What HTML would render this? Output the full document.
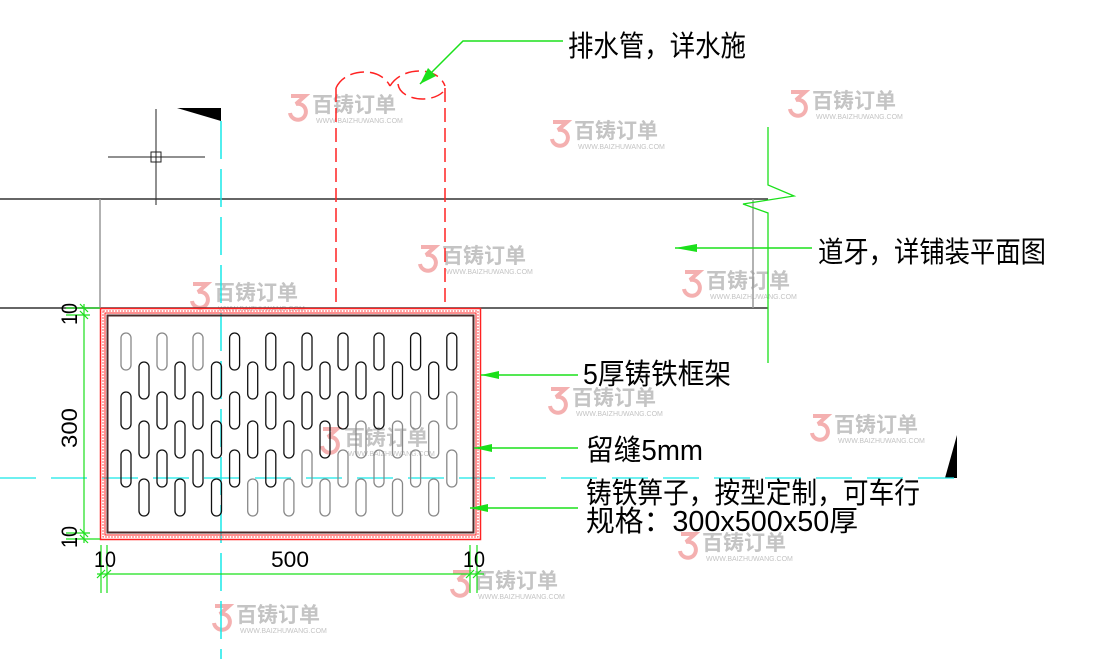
<!DOCTYPE html>
<html><head><meta charset="utf-8"><style>
html,body{margin:0;padding:0;background:#fff;}
svg{display:block;}
.t{font-family:"Liberation Sans","Noto Sans CJK SC",sans-serif;fill:#000;}
.wm{font-family:"Liberation Sans","Noto Sans CJK SC",sans-serif;font-weight:bold;fill:#c4c4c4;font-size:21px;}
.wu{font-family:"Liberation Sans",sans-serif;fill:#c4c4c4;font-size:7px;}
</style></head><body>
<svg width="1094" height="659" viewBox="0 0 1094 659" xmlns="http://www.w3.org/2000/svg">
<defs>
<g id="wm">
<path d="M3,-8 L17,-8 L8,0 A8,8 0 1 1 2,9" fill="none" stroke="#f4b0b0" stroke-width="4"/>
<text class="wm" x="24" y="8">百铸订单</text>
<text class="wu" x="28" y="19">WWW.BAIZHUWANG.COM</text>
</g>
</defs>
<use href="#wm" x="788" y="100"/>
<use href="#wm" x="550" y="130"/>
<use href="#wm" x="418" y="255"/>
<use href="#wm" x="190" y="292"/>
<use href="#wm" x="682" y="280"/>
<use href="#wm" x="548" y="397"/>
<use href="#wm" x="810" y="424"/>
<use href="#wm" x="320" y="437"/>
<use href="#wm" x="678" y="542"/>
<use href="#wm" x="450" y="580"/>
<use href="#wm" x="212" y="614"/>
<use href="#wm" x="288" y="104"/>

<g stroke="#222" stroke-width="1" fill="none">
<line x1="108" y1="157" x2="205" y2="157"/>
<line x1="156" y1="109" x2="156" y2="205"/>
<rect x="151" y="152" width="10" height="10"/>
</g>
<polygon points="177,108 221,108 221,121" fill="#000"/>
<polygon points="957,435 957,478 945,478" fill="#000"/>

<line x1="0" y1="199" x2="768" y2="199" stroke="#333" stroke-width="1.5"/>
<line x1="0" y1="308" x2="768" y2="308" stroke="#333" stroke-width="1.5"/>
<line x1="100" y1="199" x2="100" y2="308" stroke="#999" stroke-width="1.5"/>
<line x1="753" y1="199" x2="753" y2="308" stroke="#999" stroke-width="1.5"/>
<polyline points="768,127 768,185 794,196 743,204 768,213 768,363" fill="none" stroke="#1be01b" stroke-width="1.3"/>

<g stroke="#f22" stroke-width="1.5" fill="none" stroke-dasharray="14,6">
<line x1="336" y1="88" x2="336" y2="308"/>
<line x1="445" y1="88" x2="445" y2="308"/>
<path d="M336,88 C345,68 380,66 390,86"/>
<path d="M390,86 C402,66 438,66 445,86"/>
<path d="M398,84 C400,100 430,104 443,92"/>
</g>

<line x1="221" y1="121" x2="221" y2="659" stroke="#18e8e8" stroke-width="1.5" stroke-dasharray="38,10"/>
<line x1="0" y1="478" x2="957" y2="478" stroke="#18e8e8" stroke-width="1.3" stroke-dasharray="36,15"/>

<rect x="100.5" y="308.5" width="380" height="231" fill="none" stroke="#f22" stroke-width="1.5"/>
<rect x="103" y="311" width="375" height="226" fill="none" stroke="#f55" stroke-width="1" stroke-dasharray="2,1"/>
<rect x="105" y="313" width="371" height="222" fill="none" stroke="#f22" stroke-width="1"/>
<rect x="107.5" y="315.5" width="366" height="217" fill="none" stroke="#4a2a2a" stroke-width="2"/>

<g fill="none" stroke-width="1.3">
<g stroke="#888">
<rect x="121" y="333" width="10" height="37" rx="5"/>
<rect x="157" y="333" width="10" height="37" rx="5"/>
<rect x="193" y="333" width="10" height="37" rx="5"/>
<rect x="410.6" y="392" width="10" height="37" rx="5"/>
<rect x="446.8" y="392" width="10" height="37" rx="5"/>
<rect x="302" y="450" width="10" height="37" rx="5"/>
<rect x="338" y="450" width="10" height="37" rx="5"/>
<rect x="374" y="450" width="10" height="37" rx="5"/>
<rect x="410.6" y="450" width="10" height="37" rx="5"/>
<rect x="446.8" y="450" width="10" height="37" rx="5"/>
<rect x="356" y="421" width="10" height="37" rx="5"/>
<rect x="392.5" y="421" width="10" height="37" rx="5"/>
<rect x="428.7" y="421" width="10" height="37" rx="5"/>
<rect x="247.7" y="479" width="10" height="37" rx="5"/>
<rect x="283.9" y="479" width="10" height="37" rx="5"/>
<rect x="320" y="479" width="10" height="37" rx="5"/>
<rect x="356" y="479" width="10" height="37" rx="5"/>
<rect x="392.5" y="479" width="10" height="37" rx="5"/>
<rect x="428.7" y="479" width="10" height="37" rx="5"/>
</g>
<g stroke="#111">
<rect x="229.6" y="333" width="10" height="37" rx="5"/>
<rect x="265.8" y="333" width="10" height="37" rx="5"/>
<rect x="302" y="333" width="10" height="37" rx="5"/>
<rect x="338" y="333" width="10" height="37" rx="5"/>
<rect x="374" y="333" width="10" height="37" rx="5"/>
<rect x="410.6" y="333" width="10" height="37" rx="5"/>
<rect x="446.8" y="333" width="10" height="37" rx="5"/>
<rect x="121" y="392" width="10" height="37" rx="5"/>
<rect x="157" y="392" width="10" height="37" rx="5"/>
<rect x="193" y="392" width="10" height="37" rx="5"/>
<rect x="229.6" y="392" width="10" height="37" rx="5"/>
<rect x="265.8" y="392" width="10" height="37" rx="5"/>
<rect x="302" y="392" width="10" height="37" rx="5"/>
<rect x="338" y="392" width="10" height="37" rx="5"/>
<rect x="374" y="392" width="10" height="37" rx="5"/>
<rect x="121" y="450" width="10" height="37" rx="5"/>
<rect x="157" y="450" width="10" height="37" rx="5"/>
<rect x="193" y="450" width="10" height="37" rx="5"/>
<rect x="229.6" y="450" width="10" height="37" rx="5"/>
<rect x="265.8" y="450" width="10" height="37" rx="5"/>
<rect x="139" y="362" width="10" height="37" rx="5"/>
<rect x="175" y="362" width="10" height="37" rx="5"/>
<rect x="211.5" y="362" width="10" height="37" rx="5"/>
<rect x="247.7" y="362" width="10" height="37" rx="5"/>
<rect x="283.9" y="362" width="10" height="37" rx="5"/>
<rect x="320" y="362" width="10" height="37" rx="5"/>
<rect x="356" y="362" width="10" height="37" rx="5"/>
<rect x="392.5" y="362" width="10" height="37" rx="5"/>
<rect x="428.7" y="362" width="10" height="37" rx="5"/>
<rect x="139" y="421" width="10" height="37" rx="5"/>
<rect x="175" y="421" width="10" height="37" rx="5"/>
<rect x="211.5" y="421" width="10" height="37" rx="5"/>
<rect x="247.7" y="421" width="10" height="37" rx="5"/>
<rect x="283.9" y="421" width="10" height="37" rx="5"/>
<rect x="320" y="421" width="10" height="37" rx="5"/>
<rect x="139" y="479" width="10" height="37" rx="5"/>
<rect x="175" y="479" width="10" height="37" rx="5"/>
<rect x="211.5" y="479" width="10" height="37" rx="5"/>
</g>
</g>

<g stroke="#1be01b" stroke-width="1.2" fill="none">
<line x1="84" y1="304" x2="84" y2="543"/>
<line x1="66" y1="308" x2="100" y2="308"/>
<line x1="66" y1="315" x2="90" y2="315"/>
<line x1="66" y1="533" x2="90" y2="533"/>
<line x1="66" y1="539" x2="100" y2="539"/>
<line x1="80" y1="304" x2="88" y2="312"/><line x1="80" y1="311" x2="88" y2="319"/>
<line x1="80" y1="529" x2="88" y2="537"/><line x1="80" y1="535" x2="88" y2="543"/>
<line x1="97" y1="574" x2="484" y2="574"/>
<line x1="101" y1="545" x2="101" y2="593"/>
<line x1="107" y1="545" x2="107" y2="593"/>
<line x1="470" y1="545" x2="470" y2="593"/>
<line x1="477" y1="545" x2="477" y2="593"/>
<line x1="97" y1="578" x2="105" y2="570"/><line x1="103" y1="578" x2="111" y2="570"/>
<line x1="466" y1="578" x2="474" y2="570"/><line x1="473" y1="578" x2="481" y2="570"/>
</g>
<g class="t" font-size="22">
<text transform="translate(77,325) rotate(-90)" textLength="22" lengthAdjust="spacingAndGlyphs">10</text>
<text transform="translate(77,448) rotate(-90)" textLength="40" lengthAdjust="spacingAndGlyphs">300</text>
<text transform="translate(77,548) rotate(-90)" textLength="22" lengthAdjust="spacingAndGlyphs">10</text>
<text x="94" y="567" textLength="22" lengthAdjust="spacingAndGlyphs">10</text>
<text x="271" y="567" textLength="38" lengthAdjust="spacingAndGlyphs">500</text>
<text x="463" y="567" textLength="22" lengthAdjust="spacingAndGlyphs">10</text>
</g>

<g stroke="#1be01b" stroke-width="1.5" fill="none">
<polyline points="563,41 463,41 420,84"/>
<line x1="812" y1="248" x2="675" y2="248"/>
<line x1="578" y1="375" x2="481" y2="375"/>
<line x1="578" y1="448" x2="474" y2="448"/>
<line x1="578" y1="508" x2="470" y2="508"/>
</g>
<g fill="#1be01b">
<polygon points="420,84 428,68 436,76"/>
<polygon points="675,248 697,244 697,252"/>
<polygon points="481,375 499,371 499,379"/>
<polygon points="474,448 492,444 492,452"/>
<polygon points="470,508 488,504 488,512"/>
</g>

<g class="t" font-size="29">
<text x="568" y="56" textLength="178" lengthAdjust="spacingAndGlyphs">排水管，详水施</text>
<text x="818" y="262" textLength="228" lengthAdjust="spacingAndGlyphs">道牙，详铺装平面图</text>
<text x="583" y="384" textLength="148" lengthAdjust="spacingAndGlyphs">5厚铸铁框架</text>
<text x="586" y="460" textLength="117" lengthAdjust="spacingAndGlyphs">留缝5mm</text>
<text x="586" y="503" textLength="334" lengthAdjust="spacingAndGlyphs">铸铁箅子，按型定制，可车行</text>
<text x="586" y="531" textLength="272" lengthAdjust="spacingAndGlyphs">规格：300x500x50厚</text>
</g>
</svg>
</body></html>
